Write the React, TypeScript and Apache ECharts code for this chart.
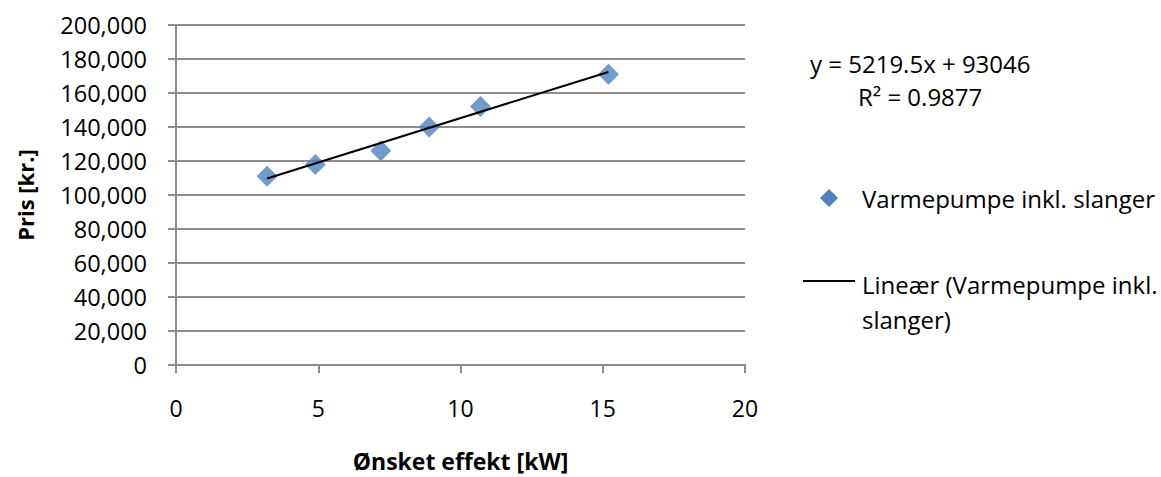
import React, { useEffect, useRef } from "react";
import * as echarts from "echarts";

const effektKW = [3.2, 4.9, 7.2, 8.9, 10.7, 15.2];
const prisKr = [111000, 118000, 126000, 140000, 152000, 171000];
const trendSlope = 5219.5;
const trendIntercept = 93046;
const trendX = [3.2, 15.2];
const xTicks = [0, 5, 10, 15, 20];
const yTicksMax = 200000;

const seriesName = "Varmepumpe inkl. slanger";
const trendName = "Lineær (Varmepumpe inkl. slanger)";
const equationText = "y = 5219.5x + 93046";
const r2Text = "R² = 0.9877";

const FONT = "'Open Sans', 'Noto Sans', sans-serif";

export default function App() {
  const ref = useRef<HTMLDivElement>(null);
  useEffect(() => {
    if (!ref.current) return;
    const chart = echarts.init(ref.current, undefined, { renderer: "svg" });
    const scatterData = effektKW.map((x, i) => [x, prisKr[i]]);
    const trendData = trendX.map((x) => [x, trendSlope * x + trendIntercept]);
    chart.setOption({
      animation: false,
      backgroundColor: "#ffffff",
      textStyle: { fontFamily: FONT },
      grid: { left: 176, right: 416, top: 25, bottom: 109 },
      xAxis: {
        type: "value",
        min: xTicks[0],
        max: xTicks[xTicks.length - 1],
        interval: 5,
        name: "Ønsket effekt [kW]",
        nameLocation: "middle",
        nameGap: 84,
        nameTextStyle: { fontFamily: FONT, fontSize: 23, fontWeight: "bold", color: "#000" },
        axisLine: { show: true, lineStyle: { color: "#8c8c8c", width: 2 } },
        axisTick: { show: true, length: 8, inside: false, lineStyle: { color: "#8c8c8c", width: 2 } },
        axisLabel: { margin: 31, fontFamily: FONT, fontSize: 23, color: "#000" },
        splitLine: { show: false },
      },
      yAxis: {
        type: "value",
        min: 0,
        max: yTicksMax,
        interval: 20000,
        name: "Pris [kr.]",
        nameLocation: "middle",
        nameGap: 140,
        nameTextStyle: { fontFamily: FONT, fontSize: 22, fontWeight: "bold", color: "#000" },
        axisLine: { show: true, lineStyle: { color: "#8c8c8c", width: 2 } },
        axisTick: { show: true, length: 8, inside: false, lineStyle: { color: "#8c8c8c", width: 2 } },
        axisLabel: {
          margin: 29,
          fontFamily: FONT,
          fontSize: 23.5,
          color: "#000",
          formatter: (v: number) => v.toLocaleString("en-US"),
        },
        splitLine: { show: true, lineStyle: { color: "#8c8c8c", width: 2 } },
      },
      series: [
        {
          name: seriesName,
          type: "scatter",
          data: scatterData,
          symbol: "diamond",
          symbolSize: 21,
          itemStyle: { color: "#4f81bd" },
          z: 2,
        },
        {
          name: trendName,
          type: "line",
          data: trendData,
          showSymbol: false,
          symbol: "none",
          lineStyle: { color: "#000", width: 2 },
          z: 3,
        },
      ],
      graphic: [
        {
          type: "text",
          x: 810,
          y: 63,
          style: { text: equationText, font: `24px ${FONT}`, fill: "#000", verticalAlign: "middle" },
        },
        {
          type: "text",
          x: 858,
          y: 96,
          style: { text: r2Text, font: `24px ${FONT}`, fill: "#000", verticalAlign: "middle" },
        },
        {
          type: "polygon",
          shape: { points: [[829, 189], [838, 198], [829, 207], [820, 198]] },
          style: { fill: "#4f81bd" },
        },
        {
          type: "text",
          x: 862,
          y: 198,
          style: { text: seriesName, font: `24px ${FONT}`, fill: "#000", verticalAlign: "middle" },
        },
        {
          type: "line",
          shape: { x1: 803, y1: 281, x2: 855, y2: 281 },
          style: { stroke: "#000", lineWidth: 2 },
        },
        {
          type: "text",
          x: 862,
          y: 284,
          style: { text: "Lineær (Varmepumpe inkl.", font: `24px ${FONT}`, fill: "#000", verticalAlign: "middle" },
        },
        {
          type: "text",
          x: 862,
          y: 319,
          style: { text: "slanger)", font: `24px ${FONT}`, fill: "#000", verticalAlign: "middle" },
        },
      ],
    });
    return () => chart.dispose();
  }, []);
  return (
    <div
      ref={ref}
      style={{ position: "fixed", left: 0, top: 0, width: 1161, height: 477, background: "#fff" }}
    />
  );
}
